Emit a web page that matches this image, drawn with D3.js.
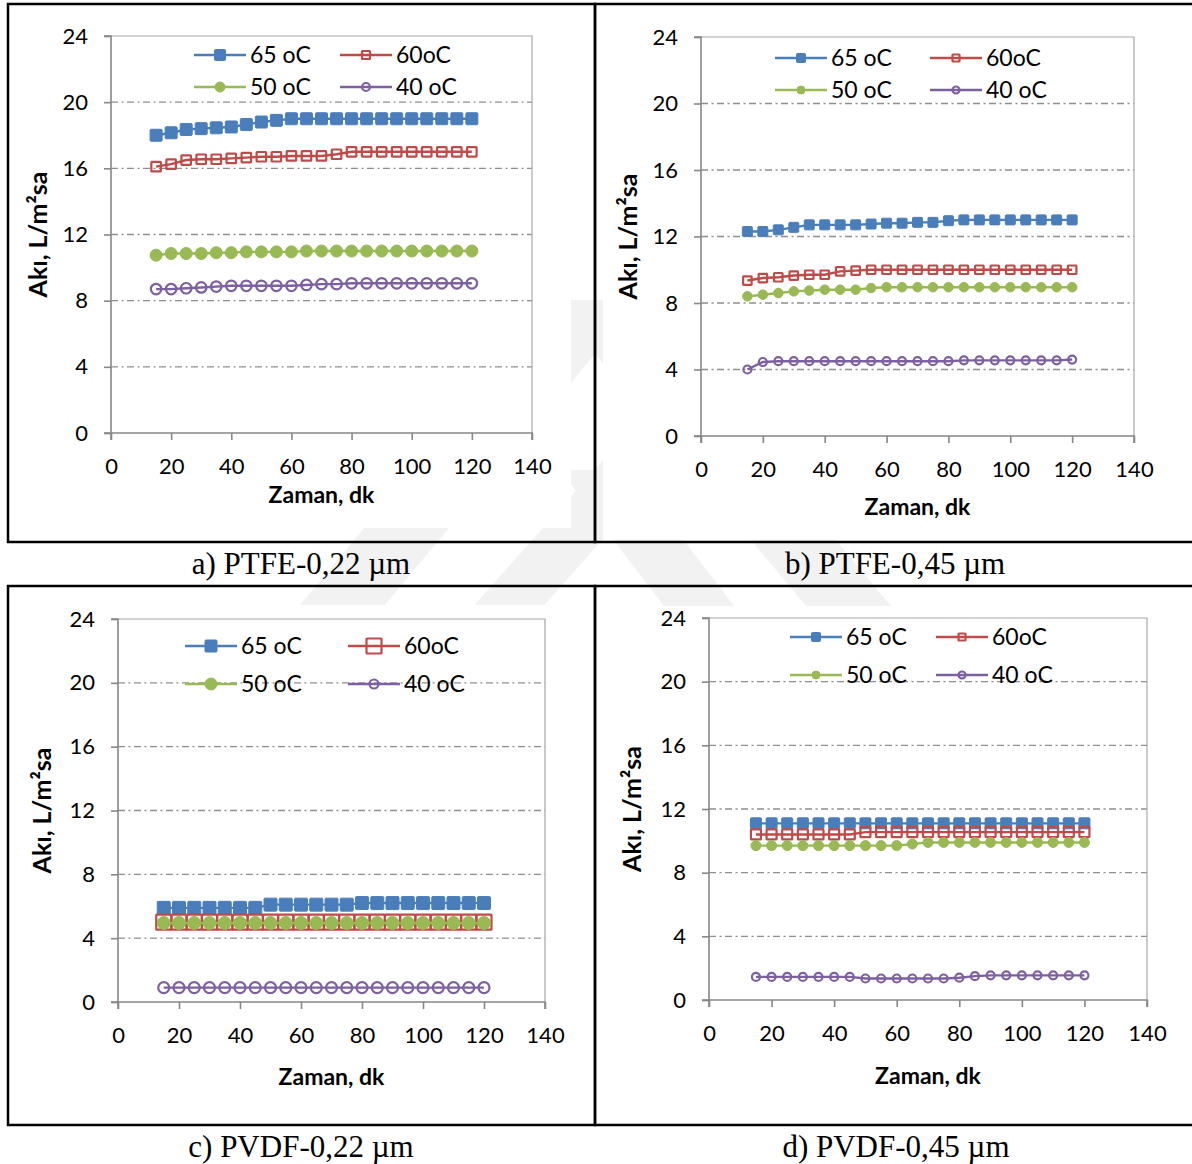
<!DOCTYPE html>
<html>
<head>
<meta charset="utf-8">
<script src="https://cdn.jsdelivr.net/npm/d3@7/dist/d3.min.js"></script>
<style>
  body { margin: 0; background: #fff; }
  svg { display: block; }
</style>
</head>
<body>
<svg id="fig" width="1192" height="1164"></svg>
<script>
// Sampling times (minutes)
const timeMin = [15, 20, 25, 30, 35, 40, 45, 50, 55, 60, 65, 70, 75, 80, 85, 90, 95, 100, 105, 110, 115, 120];

const seriesNames = ["65 oC", "60oC", "50 oC", "40 oC"];
const seriesColors = ["#4a7ebb", "#be4b48", "#98b954", "#7d60a0"];
const xTickValues = [0, 20, 40, 60, 80, 100, 120, 140];
const yTickValues = [0, 4, 8, 12, 16, 20, 24];
const captions = ["a) PTFE-0,22 \u00b5m", "b) PTFE-0,45 \u00b5m", "c) PVDF-0,22 \u00b5m", "d) PVDF-0,45 \u00b5m"];
const xTitle = "Zaman, dk";
const yTitle = "Ak\u0131, L/m\u00b2sa";

// a) PTFE-0,22 µm flux, L/m²h
const ptfe022_65 = [18.0, 18.15, 18.35, 18.4, 18.45, 18.5, 18.65, 18.8, 18.9, 19, 19, 19, 19, 19, 19, 19, 19, 19, 19, 19, 19, 19];
const ptfe022_60 = [16.1, 16.25, 16.5, 16.55, 16.55, 16.6, 16.65, 16.7, 16.7, 16.75, 16.75, 16.75, 16.85, 17, 17, 17, 17, 17, 17, 17, 17, 17];
const ptfe022_50 = [10.75, 10.85, 10.85, 10.85, 10.9, 10.9, 10.95, 10.95, 10.95, 10.95, 11, 11, 11, 11, 11, 11, 11, 11, 11, 11, 11, 11];
const ptfe022_40 = [8.7, 8.7, 8.75, 8.8, 8.85, 8.9, 8.9, 8.9, 8.9, 8.9, 8.95, 9.0, 9.0, 9.05, 9.05, 9.05, 9.05, 9.05, 9.05, 9.05, 9.05, 9.05];

// b) PTFE-0,45 µm
const ptfe045_65 = [12.3, 12.3, 12.4, 12.55, 12.7, 12.7, 12.7, 12.7, 12.75, 12.8, 12.8, 12.85, 12.85, 12.95, 13, 13, 13, 13, 13, 13, 13, 13];
const ptfe045_60 = [9.35, 9.5, 9.55, 9.65, 9.7, 9.7, 9.9, 9.95, 10, 10, 10, 10, 10, 10, 10, 10, 10, 10, 10, 10, 10, 10];
const ptfe045_50 = [8.4, 8.5, 8.6, 8.7, 8.75, 8.8, 8.8, 8.8, 8.9, 8.95, 8.95, 8.95, 8.95, 8.95, 8.95, 8.95, 8.95, 8.95, 8.95, 8.95, 8.95, 8.95];
const ptfe045_40 = [4.0, 4.45, 4.5, 4.5, 4.5, 4.5, 4.5, 4.5, 4.5, 4.5, 4.5, 4.5, 4.5, 4.5, 4.55, 4.55, 4.55, 4.55, 4.55, 4.55, 4.55, 4.6];

// c) PVDF-0,22 µm
const pvdf022_65 = [5.9, 5.9, 5.9, 5.9, 5.9, 5.9, 5.9, 6.1, 6.1, 6.1, 6.1, 6.1, 6.1, 6.2, 6.2, 6.2, 6.2, 6.2, 6.2, 6.2, 6.2, 6.2];
const pvdf022_60 = [5.0, 5.0, 5.0, 5.0, 5.0, 5.0, 5.0, 5.0, 5.0, 5.0, 5.0, 5.0, 5.0, 5.0, 5.0, 5.0, 5.0, 5.0, 5.0, 5.0, 5.0, 5.0];
const pvdf022_50 = [4.95, 4.95, 4.95, 4.95, 4.95, 4.95, 4.95, 4.95, 4.95, 4.95, 4.95, 4.95, 4.95, 4.95, 4.95, 4.95, 4.95, 4.95, 4.95, 4.95, 4.95, 4.95];
const pvdf022_40 = [0.9, 0.9, 0.9, 0.9, 0.9, 0.9, 0.9, 0.9, 0.9, 0.9, 0.9, 0.9, 0.9, 0.9, 0.9, 0.9, 0.9, 0.9, 0.9, 0.9, 0.9, 0.9];

// d) PVDF-0,45 µm
const pvdf045_65 = [11.1, 11.1, 11.1, 11.1, 11.1, 11.1, 11.1, 11.1, 11.1, 11.1, 11.1, 11.1, 11.1, 11.1, 11.1, 11.1, 11.1, 11.1, 11.1, 11.1, 11.1, 11.1];
const pvdf045_60 = [10.4, 10.4, 10.4, 10.4, 10.4, 10.4, 10.4, 10.55, 10.55, 10.55, 10.55, 10.55, 10.55, 10.55, 10.55, 10.55, 10.55, 10.55, 10.55, 10.55, 10.55, 10.55];
const pvdf045_50 = [9.7, 9.7, 9.7, 9.7, 9.7, 9.7, 9.7, 9.7, 9.7, 9.7, 9.8, 9.9, 9.9, 9.9, 9.9, 9.9, 9.9, 9.9, 9.9, 9.9, 9.9, 9.9];
const pvdf045_40 = [1.45, 1.45, 1.45, 1.45, 1.45, 1.45, 1.45, 1.35, 1.35, 1.35, 1.35, 1.35, 1.35, 1.4, 1.5, 1.55, 1.55, 1.55, 1.55, 1.55, 1.55, 1.55];

// Panel geometry and marker styling
const panels = [
  { data: [ptfe022_65, ptfe022_60, ptfe022_50, ptfe022_40],
    box: [8, 4, 595, 542], area: [12, 8, 571, 528], plot: { x0: 111, x1: 532, y0: 433, y1: 36 },
    yTitleX: 38, xTitleY: 495, caption: [301, 574],
    legend: { cols: [194, 340], rows: [55, 87], len: 52 },
    msize: [12, 9.5, 12, 10.5], lsize: [11, 8, 10, 8] },
  { data: [ptfe045_65, ptfe045_60, ptfe045_50, ptfe045_40],
    box: [595, 4, 1200, 542], area: [603, 8, 1190, 540], plot: { x0: 701, x1: 1134, y0: 436, y1: 37 },
    yTitleX: 628, xTitleY: 507, caption: [895, 574],
    legend: { cols: [775, 930], rows: [58, 90], len: 52 },
    msize: [10, 8.5, 9.5, 8], lsize: [9, 7, 8, 7] },
  { data: [pvdf022_65, pvdf022_60, pvdf022_50, pvdf022_40],
    box: [8, 586, 595, 1125], area: [12, 605, 571, 1112], plot: { x0: 118, x1: 545, y0: 1002, y1: 619 },
    yTitleX: 42, xTitleY: 1077, caption: [301, 1157],
    legend: { cols: [185, 348], rows: [646, 684], len: 52 },
    msize: [13, 15, 13, 11], lsize: [12, 15, 12, 9] },
  { data: [pvdf045_65, pvdf045_60, pvdf045_50, pvdf045_40],
    box: [595, 586, 1200, 1125], area: [603, 606, 1190, 1122], plot: { x0: 709, x1: 1147, y0: 1000, y1: 618 },
    yTitleX: 632, xTitleY: 1076, caption: [896, 1157],
    legend: { cols: [790, 936], rows: [637, 675], len: 52 },
    msize: [11, 10, 10, 8], lsize: [9, 7, 8, 7] }
];

const markerKind = ["squareFilled", "squareOpen", "circleFilled", "circleOpen"];
const FONT = "Lato, 'Open Sans', sans-serif";
const AXIS = "#878787";
const GRID = "#8f8f8f";

const svg = d3.select("#fig");

// faint page watermark behind the charts
const mark = svg.append("g").attr("fill", "#f2f2f2");
[
  [[170, 760], [255, 760], [640, 300], [555, 300]],
  [[1020, 760], [935, 760], [550, 300], [635, 300]],
  [[390, 700], [460, 700], [700, 430], [630, 430]],
  [[560, 470], [630, 470], [760, 640], [690, 640]]
].forEach(poly => mark.append("path").attr("d", d3.line()(poly) + "Z"));

// white chart areas
panels.forEach(p => {
  const [x0, y0, x1, y1] = p.area;
  svg.append("rect").attr("x", x0).attr("y", y0)
    .attr("width", x1 - x0).attr("height", y1 - y0).attr("fill", "#fff");
});

function drawMarker(g, kind, x, y, s, color) {
  if (kind.startsWith("square")) {
    g.append("rect")
      .attr("x", x - s / 2).attr("y", y - s / 2)
      .attr("width", s).attr("height", s)
      .attr("fill", kind === "squareFilled" ? color : "none")
      .attr("stroke", color)
      .attr("stroke-width", kind === "squareFilled" ? 1 : 2.2)
      .attr("rx", kind === "squareFilled" ? 1 : 0.5);
  } else {
    g.append("circle")
      .attr("cx", x).attr("cy", y).attr("r", s / 2)
      .attr("fill", kind === "circleFilled" ? color : "none")
      .attr("stroke", color)
      .attr("stroke-width", kind === "circleFilled" ? 1 : 2.2);
  }
}

panels.forEach((p, pi) => {
  const g = svg.append("g");
  const x = d3.scaleLinear().domain([0, 140]).range([p.plot.x0, p.plot.x1]);
  const y = d3.scaleLinear().domain([0, 24]).range([p.plot.y0, p.plot.y1]);

  // gridlines (dash-dot)
  g.append("g").selectAll("line").data(yTickValues.filter(v => v > 0 && v < 24)).join("line")
    .attr("x1", x(0)).attr("x2", x(140))
    .attr("y1", d => y(d)).attr("y2", d => y(d))
    .attr("stroke", GRID).attr("stroke-width", 1.4)
    .attr("stroke-dasharray", "7,3.5,2,3.5");

  // plot-area frame (top and right)
  g.append("path")
    .attr("d", `M${x(0)},${y(24)}H${x(140)}V${y(0)}`)
    .attr("fill", "none").attr("stroke", "#a8a8a8").attr("stroke-width", 1.2);

  // axes
  const xAxis = d3.axisBottom(x).tickValues(xTickValues).tickSize(7).tickPadding(18);
  const yAxis = d3.axisLeft(y).tickValues(yTickValues).tickSize(7).tickPadding(16);
  const gx = g.append("g").attr("transform", `translate(0,${y(0)})`).call(xAxis);
  const gy = g.append("g").attr("transform", `translate(${x(0)},0)`).call(yAxis);
  [gx, gy].forEach(ax => {
    ax.select(".domain").attr("stroke", AXIS).attr("stroke-width", 1.6);
    ax.selectAll(".tick line").attr("stroke", AXIS).attr("stroke-width", 1.6);
    ax.selectAll(".tick text").attr("fill", "#000").style("font-family", FONT).style("font-size", "22px");
  });
  gx.select(".domain").attr("d", `M${x(0)},7V0H${x(140)}V7`);
  gy.select(".domain").attr("d", `M-7,${y(24)}H0V${y(0)}H-7`);

  // series lines and markers
  p.data.forEach((vals, si) => {
    const pts = vals.map((v, i) => [timeMin[i], v]);
    g.append("path")
      .attr("d", d3.line().x(d => x(d[0])).y(d => y(d[1]))(pts))
      .attr("fill", "none").attr("stroke", seriesColors[si]).attr("stroke-width", 2.4);
    const mg = g.append("g");
    pts.forEach(d => drawMarker(mg, markerKind[si], x(d[0]), y(d[1]), p.msize[si], seriesColors[si]));
  });

  // legend
  seriesNames.forEach((name, si) => {
    const lx = p.legend.cols[si % 2];
    const ly = p.legend.rows[Math.floor(si / 2)];
    g.append("line")
      .attr("x1", lx).attr("x2", lx + p.legend.len)
      .attr("y1", ly).attr("y2", ly)
      .attr("stroke", seriesColors[si]).attr("stroke-width", 2.4);
    drawMarker(g, markerKind[si], lx + p.legend.len / 2, ly, p.lsize[si], seriesColors[si]);
    g.append("text")
      .attr("x", lx + p.legend.len + 4).attr("y", ly)
      .attr("dy", "0.35em")
      .style("font-family", FONT).style("font-size", "23px")
      .text(name);
  });

  // axis titles
  g.append("text")
    .attr("x", (x(0) + x(140)) / 2).attr("y", p.xTitleY)
    .attr("text-anchor", "middle").attr("dy", "0.35em")
    .style("font-family", FONT).style("font-size", "23px").style("font-weight", "bold")
    .text(xTitle);
  g.append("text")
    .attr("transform", `translate(${p.yTitleX},${(y(0) + y(24)) / 2}) rotate(-90)`)
    .attr("text-anchor", "middle").attr("dy", "0.35em")
    .style("font-family", FONT).style("font-size", "25px").style("font-weight", "bold")
    .text(yTitle);

  // caption
  svg.append("text")
    .attr("x", p.caption[0]).attr("y", p.caption[1])
    .attr("text-anchor", "middle")
    .style("font-family", "'Liberation Serif', 'Times New Roman', serif")
    .style("font-size", "31px")
    .text(captions[pi]);
});

// panel frames
panels.forEach(p => {
  const [x0, y0, x1, y1] = p.box;
  svg.append("rect")
    .attr("x", x0).attr("y", y0).attr("width", x1 - x0).attr("height", y1 - y0)
    .attr("fill", "none").attr("stroke", "#000").attr("stroke-width", 2.5);
});
</script>
</body>
</html>
